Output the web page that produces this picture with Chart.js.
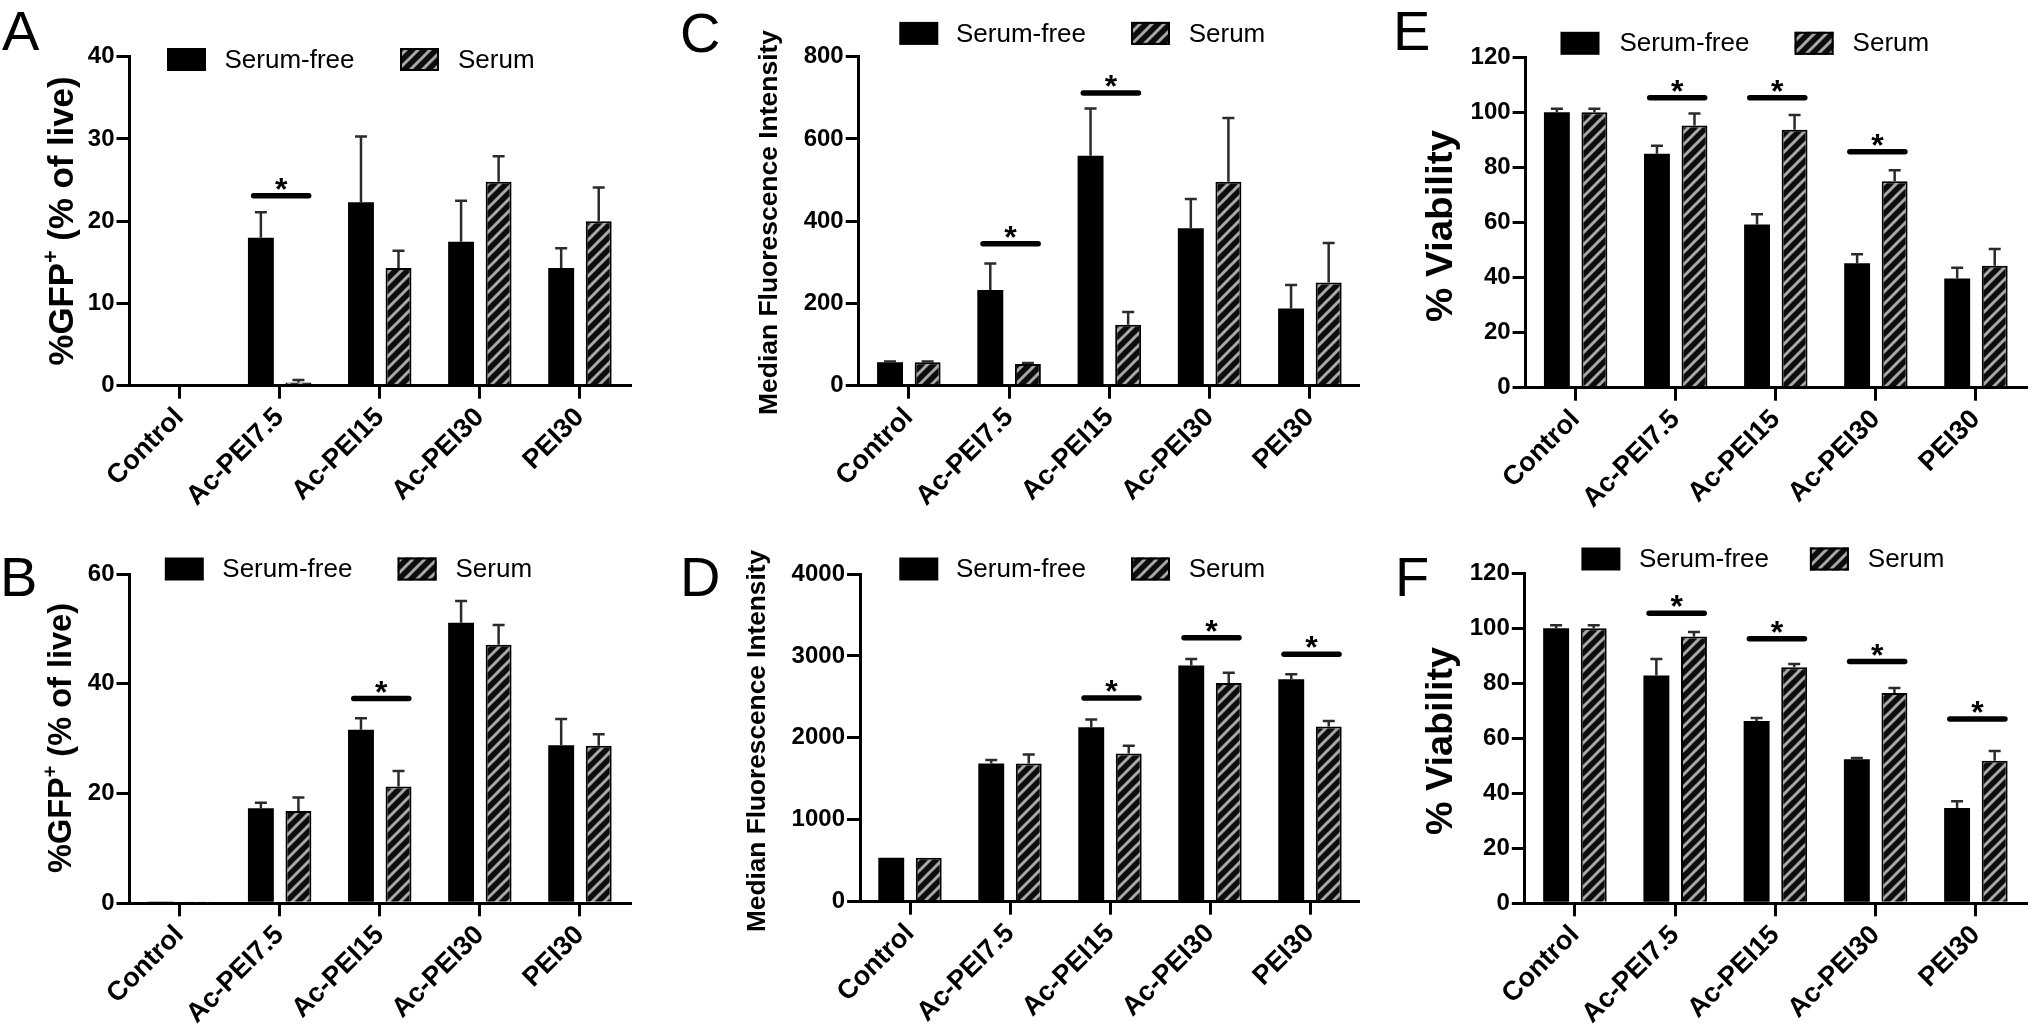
<!DOCTYPE html>
<html>
<head>
<meta charset="utf-8">
<script src="https://cdn.jsdelivr.net/npm/chart.js@4.4.0/dist/chart.umd.min.js"></script>
<style>
  html, body { margin: 0; padding: 0; background: #fff; }
  body { width: 2040px; height: 1031px; position: relative; overflow: hidden; }
  canvas { position: absolute; }
</style>
</head>
<body>
<canvas id="chart-a"></canvas>
<canvas id="chart-b"></canvas>
<canvas id="chart-c"></canvas>
<canvas id="chart-d"></canvas>
<canvas id="chart-e"></canvas>
<canvas id="chart-f"></canvas>
<script>
// categories shared by all six panels
const categories = ['Control', 'Ac-PEI7.5', 'Ac-PEI15', 'Ac-PEI30', 'PEI30'];

// A - %GFP+ (first row)
const gfpFreeA = [0, 18.0, 22.3, 17.5, 14.3];
const gfpFreeErrA = [0, 3.1, 8.0, 5.0, 2.4];
const gfpSerumA = [0, 0.4, 14.3, 24.8, 20.0];
const gfpSerumErrA = [0, 0.3, 2.1, 3.1, 4.1];
const sigA = [[1, 23.1]];

// B - %GFP+ (second row)
const gfpFreeB = [0.15, 17.3, 31.6, 51.1, 28.8];
const gfpFreeErrB = [0, 1.0, 2.1, 4.0, 4.8];
const gfpSerumB = [0.15, 16.8, 21.3, 47.1, 28.7];
const gfpSerumErrB = [0, 2.5, 2.8, 3.6, 2.1];
const sigB = [[2, 37.3]];

// C - median fluorescence intensity (first row)
const mfiFreeC = [57, 233, 559, 383, 188];
const mfiFreeErrC = [2, 64, 115, 71, 57];
const mfiSerumC = [57, 53, 148, 496, 251];
const mfiSerumErrC = [2, 2, 31, 155, 96];
const sigC = [[1, 345], [2, 712]];

// D - median fluorescence intensity (second row)
const mfiFreeD = [537, 1688, 2128, 2884, 2714];
const mfiFreeErrD = [0, 41, 97, 78, 61];
const mfiSerumD = [537, 1688, 1810, 2669, 2140];
const mfiSerumErrD = [0, 110, 94, 126, 65];
const sigD = [[2, 2486], [3, 3222], [4, 3019]];

// E - % viability (first row)
const viaFreeE = [100, 85.0, 59.3, 45.2, 39.7];
const viaFreeErrE = [1.3, 2.9, 3.7, 3.3, 3.9];
const viaSerumE = [100, 95.2, 93.7, 75.0, 44.3];
const viaSerumErrE = [1.3, 4.4, 5.3, 4.0, 6.1];
const sigE = [[1, 105.3], [2, 105.3], [3, 85.7]];

// F - % viability (second row)
const viaFreeF = [100, 82.8, 66.3, 52.4, 34.7];
const viaFreeErrF = [1.1, 6.0, 1.1, 0.4, 2.4];
const viaSerumF = [100, 97.0, 85.8, 76.5, 51.8];
const viaSerumErrF = [1.1, 1.7, 1.2, 1.8, 3.6];
const sigF = [[1, 105.5], [2, 96.2], [3, 87.9], [4, 67]];

const FONT = '"Liberation Sans", Arial, Helvetica, sans-serif';

// hatched fill used for the "Serum" bars
function makeHatch() {
  const size = 12;
  const tile = document.createElement('canvas');
  tile.width = size; tile.height = size;
  const t = tile.getContext('2d');
  t.fillStyle = '#0d0d0d';
  t.fillRect(0, 0, size, size);
  t.strokeStyle = '#a8a8a8';
  t.lineWidth = 3;
  t.beginPath();
  t.moveTo(0, size); t.lineTo(size, 0);
  t.moveTo(-size / 2, size / 2); t.lineTo(size / 2, -size / 2);
  t.moveTo(size / 2, size * 1.5); t.lineTo(size * 1.5, size / 2);
  t.stroke();
  return t.createPattern(tile, 'repeat');
}

const panels = [
  { id: 'chart-a', x: 0, y: 0, w: 680, h: 510, area: { l: 129.5, t: 56.7, r: 630, b: 385.7 },
    max: 40, step: 10, free: gfpFreeA, freeErr: gfpFreeErrA, serum: gfpSerumA, serumErr: gfpSerumErrA, sig: sigA,
    title: [['%GFP', 0], ['+', 1], [' (% of live)', 0]], titleSize: 35, titleLen: 289, titleX: 63, titleY: 221,
    letter: 'A', letterX: 2, letterY: 50, legendY: 59.5, legendX: [167, 224.5, 400, 458] },
  { id: 'chart-b', x: 0, y: 510, w: 680, h: 521, area: { l: 129.5, t: 574, r: 630, b: 903.3 },
    max: 60, step: 20, free: gfpFreeB, freeErr: gfpFreeErrB, serum: gfpSerumB, serumErr: gfpSerumErrB, sig: sigB,
    title: [['%GFP', 0], ['+', 1], [' (% of live)', 0]], titleSize: 33, titleLen: 270, titleX: 62, titleY: 738,
    letter: 'B', letterX: 0, letterY: 596, legendY: 569, legendX: [164.8, 222.3, 397.6, 455.5] },
  { id: 'chart-c', x: 680, y: 0, w: 680, h: 510, area: { l: 858.7, t: 56.7, r: 1362, b: 385.7 },
    max: 800, step: 200, free: mfiFreeC, freeErr: mfiFreeErrC, serum: mfiSerumC, serumErr: mfiSerumErrC, sig: sigC,
    title: [['Median Fluorescence Intensity', 0]], titleSize: 26.5, titleLen: 385, titleX: 770, titleY: 222.5,
    letter: 'C', letterX: 680, letterY: 52, legendY: 33.4, legendX: [899.3, 956, 1131, 1188.7] },
  { id: 'chart-d', x: 680, y: 510, w: 680, h: 521, area: { l: 860, t: 574, r: 1362, b: 901.7 },
    max: 4000, step: 1000, free: mfiFreeD, freeErr: mfiFreeErrD, serum: mfiSerumD, serumErr: mfiSerumErrD, sig: sigD,
    title: [['Median Fluorescence Intensity', 0]], titleSize: 26.5, titleLen: 382, titleX: 757.4, titleY: 741,
    letter: 'D', letterX: 680, letterY: 596, legendY: 569, legendX: [899.3, 956, 1131, 1188.7] },
  { id: 'chart-e', x: 1360, y: 0, w: 680, h: 510, area: { l: 1525.6, t: 57.3, r: 2026, b: 387.7 },
    max: 120, step: 20, free: viaFreeE, freeErr: viaFreeErrE, serum: viaSerumE, serumErr: viaSerumErrE, sig: sigE,
    title: [['% Viability', 0]], titleSize: 37, titleLen: 192, titleX: 1441.5, titleY: 226,
    letter: 'E', letterX: 1393, letterY: 50, legendY: 43.3, legendX: [1560.5, 1619.4, 1794.6, 1852.6] },
  { id: 'chart-f', x: 1360, y: 510, w: 680, h: 521, area: { l: 1524.8, t: 573.3, r: 2026, b: 903.3 },
    max: 120, step: 20, free: viaFreeF, freeErr: viaFreeErrF, serum: viaSerumF, serumErr: viaSerumErrF, sig: sigF,
    title: [['% Viability', 0]], titleSize: 37, titleLen: 188, titleX: 1442, titleY: 741,
    letter: 'F', letterX: 1395, letterY: 596, legendY: 559, legendX: [1581.4, 1639, 1809.9, 1867.8] }
];

// error bars, significance bars, legend, axis title and panel letter
function decorPlugin(p, hatch) {
  return {
    id: 'decor',
    afterDatasetsDraw(chart) {
      const ctx = chart.ctx;
      const xs = chart.scales.x, ys = chart.scales.y;
      const errs = [p.freeErr, p.serumErr];
      const vals = [p.free, p.serum];
      ctx.save();
      ctx.strokeStyle = '#2b2b2b';
      ctx.lineWidth = 2.5;
      [0, 1].forEach(function(i) {
        chart.getDatasetMeta(i).data.forEach(function(bar, j) {
          const e = errs[i][j];
          if (!e) return;
          const top = ys.getPixelForValue(vals[i][j] + e);
          ctx.beginPath();
          ctx.moveTo(bar.x, bar.y);
          ctx.lineTo(bar.x, top);
          ctx.moveTo(bar.x - 6, top);
          ctx.lineTo(bar.x + 6, top);
          ctx.stroke();
        });
      });
      // significance markers
      const catW = (chart.chartArea.right - chart.chartArea.left) / categories.length;
      ctx.strokeStyle = '#000';
      ctx.lineWidth = 5.5;
      ctx.lineCap = 'round';
      ctx.fillStyle = '#000';
      ctx.font = 'bold 32px ' + FONT;
      ctx.textAlign = 'center';
      ctx.textBaseline = 'alphabetic';
      p.sig.forEach(function(s) {
        const cx = xs.getPixelForValue(s[0]);
        const y = ys.getPixelForValue(s[1]);
        const x0 = cx - 0.26 * catW, x1 = cx + 0.29 * catW;
        ctx.beginPath();
        ctx.moveTo(x0, y);
        ctx.lineTo(x1, y);
        ctx.stroke();
        ctx.fillText('*', (x0 + x1) / 2, y + 4);
      });
      ctx.restore();
    },
    afterDraw(chart) {
      const ctx = chart.ctx;
      ctx.save();
      ctx.translate(-p.x, -p.y);
      // legend
      const bw = 39, bh = 23;
      const by = p.legendY - bh / 2;
      ctx.fillStyle = '#000';
      ctx.fillRect(p.legendX[0], by, bw, bh);
      ctx.fillStyle = hatch;
      ctx.fillRect(p.legendX[2], by, bw, bh);
      ctx.strokeStyle = '#000';
      ctx.lineWidth = 2;
      ctx.strokeRect(p.legendX[2] + 1, by + 1, bw - 2, bh - 2);
      ctx.fillStyle = '#000';
      ctx.font = '26px ' + FONT;
      ctx.textAlign = 'left';
      ctx.textBaseline = 'middle';
      ctx.fillText('Serum-free', p.legendX[1], p.legendY + 1);
      ctx.fillText('Serum', p.legendX[3], p.legendY + 1);
      // panel letter
      ctx.font = '56px ' + FONT;
      ctx.textBaseline = 'alphabetic';
      ctx.fillText(p.letter, p.letterX, p.letterY);
      // y axis title, rotated
      ctx.translate(p.titleX, p.titleY);
      ctx.rotate(-Math.PI / 2);
      const big = 'bold ' + p.titleSize + 'px ' + FONT;
      const small = 'bold ' + Math.round(p.titleSize * 0.62) + 'px ' + FONT;
      let total = 0;
      p.title.forEach(function(part) {
        ctx.font = part[1] ? small : big;
        total += ctx.measureText(part[0]).width;
      });
      ctx.scale(p.titleLen / total, 1);
      let cur = -total / 2;
      ctx.textBaseline = 'middle';
      p.title.forEach(function(part) {
        ctx.font = part[1] ? small : big;
        ctx.fillText(part[0], cur, part[1] ? -p.titleSize * 0.33 : 0);
        cur += ctx.measureText(part[0]).width;
      });
      ctx.restore();
    }
  };
}

function makePanel(p) {
  const canvas = document.getElementById(p.id);
  canvas.width = p.w;
  canvas.height = p.h;
  canvas.style.left = p.x + 'px';
  canvas.style.top = p.y + 'px';
  canvas.style.width = p.w + 'px';
  canvas.style.height = p.h + 'px';
  const hatch = makeHatch();
  const a = p.area;

  new Chart(canvas, {
    type: 'bar',
    data: {
      labels: categories,
      datasets: [
        { label: 'Serum-free', data: p.free, backgroundColor: '#000', borderWidth: 0 },
        { label: 'Serum', data: p.serum, backgroundColor: hatch, borderColor: '#000', borderWidth: 2 }
      ]
    },
    options: {
      responsive: false,
      animation: false,
      devicePixelRatio: 1,
      layout: { padding: { left: 0, top: a.t - p.y, right: p.x + p.w - a.r, bottom: 0 } },
      datasets: { bar: { categoryPercentage: 0.75, barPercentage: 0.69 } },
      plugins: { legend: { display: false }, tooltip: { enabled: false } },
      scales: {
        x: {
          grid: { offset: false, drawOnChartArea: false, tickLength: 13, color: '#000', lineWidth: 3 },
          border: { color: '#000', width: 3 },
          ticks: { color: '#000', font: { family: FONT, size: 27, weight: 'bold' },
                   maxRotation: 45, minRotation: 45, padding: 3, autoSkip: false },
          afterFit: function(s) { s.height = p.y + p.h - a.b; }
        },
        y: {
          min: 0, max: p.max,
          grid: { drawOnChartArea: false, tickLength: 13, color: '#000', lineWidth: 3 },
          border: { color: '#000', width: 3 },
          ticks: { stepSize: p.step, color: '#000', padding: 2,
                   font: { family: FONT, size: 24, weight: 'bold' },
                   callback: function(v) { return String(v); } },
          afterFit: function(s) { s.width = a.l - p.x; }
        }
      }
    },
    plugins: [decorPlugin(p, hatch)]
  });
}

panels.forEach(makePanel);
</script>
</body>
</html>
